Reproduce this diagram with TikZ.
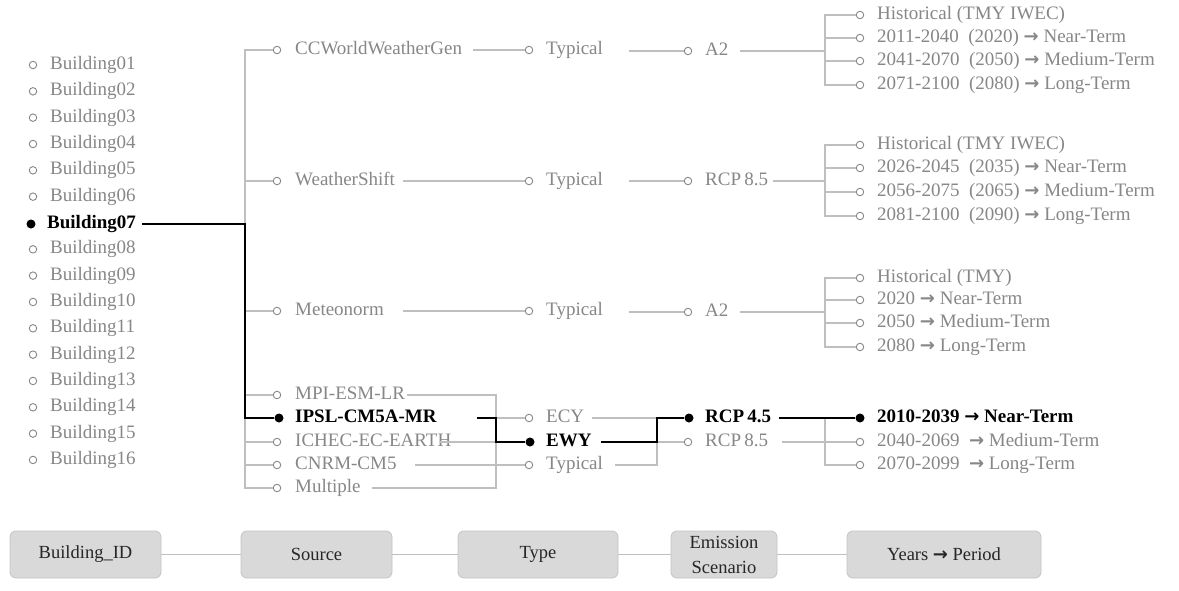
\documentclass[tikz,border=0pt]{standalone}
\usepackage{fontspec}
\setmainfont{Liberation Serif}
\newfontfamily\arrowfont{DejaVu Sans}
\definecolor{tgray}{HTML}{878787}
\definecolor{lgray}{HTML}{BFBFBF}
\definecolor{boxfill}{HTML}{D9D9D9}
\definecolor{boxline}{HTML}{C4C4C4}
\definecolor{boxtext}{HTML}{262626}
\newcommand{\arr}{{\arrowfont\bfseries\fontsize{18}{18}\selectfont →}}
\begin{document}
\begin{tikzpicture}[x=1pt,y=-1pt,
  every node/.style={font=\fontsize{19}{22}\selectfont},
  gdot/.style={circle,draw=tgray,fill=white,line width=0.9pt,minimum size=7.5pt,inner sep=0pt},
  bdot/.style={circle,fill=black,minimum size=9pt,inner sep=0pt},
  glab/.style={anchor=west,text=tgray,inner sep=0pt,text height=13pt,text depth=4pt},
  blab/.style={anchor=west,text=black,inner sep=0pt,text height=13pt,text depth=4pt,font=\fontsize{19}{22}\selectfont\bfseries},
  gl/.style={draw=lgray,line width=1.8pt},
  bl/.style={draw=black,line width=2.4pt},
  keybox/.style={draw=boxline,fill=boxfill,rounded corners=6pt,line width=0.8pt,inner sep=0pt,
    minimum height=47pt,font=\fontsize{18.5}{25}\selectfont,text=boxtext,align=center}
]
\useasboundingbox[fill=white] (0,0) rectangle (1179,590);

% ---------- Buildings ----------
\foreach \n/\k in {01/0,02/1,03/2,04/3,05/4,06/5,08/7,09/8,10/9,11/10,12/11,13/12,14/13,15/14,16/15}{
  \node[gdot] (bd\n) at (33,{65+26.33*\k}) {};
  \node[glab] (b\n) at (50,{65+26.33*\k}) {Building\n};
}
\node[bdot] (bd07) at (31,224) {};
\node[blab] (b07) at (47,224) {Building07};

% ---------- Sources ----------
\node[gdot] (sd-ccw) at (277,50) {};  \node[glab] (s-ccw) at (295,50) {CCWorldWeatherGen};
\node[gdot] (sd-ws) at (277,181) {};  \node[glab] (s-ws) at (295,181) {WeatherShift};
\node[gdot] (sd-mn) at (277,311) {};  \node[glab] (s-mn) at (295,311) {Meteonorm};
\node[gdot] (sd-mpi) at (277,395) {}; 
\node[bdot] (sd-ipsl) at (279,418) {};
\node[gdot] (sd-ichec) at (277,442) {};
\node[gdot] (sd-cnrm) at (277,465) {};
\node[gdot] (sd-mult) at (277,488) {};

\coordinate (sb1) at (245,50);
\coordinate (sb8) at (245,488);
\draw[gl] (sd-ccw) -- (sb1) -- (sb8) -- (sd-mult);
\foreach \s in {ws,mn,mpi,ichec,cnrm}{ \draw[gl] (sd-\s) -- (sd-\s -| sb1); }

% bottom group gray connections (drawn under labels)
\coordinate (tb) at (496,395);
\coordinate (mpio) at (407,395);
\coordinate (ichco) at (440,442);
\coordinate (cnrmo) at (415,465);
\coordinate (multo) at (372,488);
\node[gdot] (td-ecy) at (529,418) {};
\node[bdot] (td-ewy) at (530,442) {};
\node[gdot] (td-typ) at (529,465) {};
\draw[gl] (mpio) -- (tb) -- (tb |- sd-mult) -- (multo);
\draw[gl] (ichco) -- (ichco -| tb);
\draw[gl] (td-ecy -| tb) -- (td-ecy);
\draw[gl] (cnrmo) -- (td-typ);

\node[glab] (s-mpi) at (295,395) {MPI-ESM-LR};
\node[blab] (s-ipsl) at (295,418) {IPSL-CM5A-MR};
\node[glab] (s-ichec) at (295,442) {ICHEC-EC-EARTH};
\node[glab] (s-cnrm) at (295,465) {CNRM-CM5};
\node[glab] (s-mult) at (295,488) {Multiple};
\draw[gl] (ichco) -- (ichco -| tb);

% ---------- Type / Emission / Years : upper three groups ----------
% group 1
\node[gdot] (td-1) at (529,50) {};  \node[glab] (t-1) at (546,50) {Typical};
\node[gdot] (ed-1) at (688,51) {};  \node[glab] (e-1) at (705,51) {A2};
\coordinate (s1o) at (473,50);  \draw[gl] (s1o) -- (td-1);
\coordinate (t1o) at (629,51);  \draw[gl] (t1o) -- (ed-1);
\coordinate (e1o) at (740,51);  \coordinate (yb1) at (825,51);
\draw[gl] (e1o) -- (yb1);
\node[gdot] (yd-1-1) at (860,15) {}; \node[glab] (y-1-1) at (877,15) {Historical (TMY IWEC)};
\node[gdot] (yd-1-2) at (860,38) {}; \node[glab] (y-1-2) at (877,38) {2011-2040\ \ (2020)\ \arr{} Near-Term};
\node[gdot] (yd-1-3) at (860,61) {}; \node[glab] (y-1-3) at (877,61) {2041-2070\ \ (2050)\ \arr{} Medium-Term};
\node[gdot] (yd-1-4) at (860,85) {}; \node[glab] (y-1-4) at (877,85) {2071-2100\ \ (2080)\ \arr{} Long-Term};
\draw[gl] (yd-1-1) -- (yd-1-1 -| yb1) -- (yd-1-4 -| yb1) -- (yd-1-4);
\draw[gl] (yd-1-2) -- (yd-1-2 -| yb1);
\draw[gl] (yd-1-3) -- (yd-1-3 -| yb1);

% group 2
\node[gdot] (td-2) at (529,181) {};  \node[glab] (t-2) at (546,181) {Typical};
\node[gdot] (ed-2) at (688,181) {};  \node[glab] (e-2) at (705,181) {RCP\,8.5};
\coordinate (s2o) at (403,181);  \draw[gl] (s2o) -- (td-2);
\coordinate (t2o) at (629,181);  \draw[gl] (t2o) -- (ed-2);
\coordinate (e2o) at (773,181);  \coordinate (yb2) at (825,181);
\draw[gl] (e2o) -- (yb2);
\node[gdot] (yd-2-1) at (860,145) {}; \node[glab] (y-2-1) at (877,145) {Historical (TMY IWEC)};
\node[gdot] (yd-2-2) at (860,168) {}; \node[glab] (y-2-2) at (877,168) {2026-2045\ \ (2035)\ \arr{} Near-Term};
\node[gdot] (yd-2-3) at (860,192) {}; \node[glab] (y-2-3) at (877,192) {2056-2075\ \ (2065)\ \arr{} Medium-Term};
\node[gdot] (yd-2-4) at (860,216) {}; \node[glab] (y-2-4) at (877,216) {2081-2100\ \ (2090)\ \arr{} Long-Term};
\draw[gl] (yd-2-1) -- (yd-2-1 -| yb2) -- (yd-2-4 -| yb2) -- (yd-2-4);
\draw[gl] (yd-2-2) -- (yd-2-2 -| yb2);
\draw[gl] (yd-2-3) -- (yd-2-3 -| yb2);

% group 3
\node[gdot] (td-3) at (529,311) {};  \node[glab] (t-3) at (546,311) {Typical};
\node[gdot] (ed-3) at (688,312) {};  \node[glab] (e-3) at (705,312) {A2};
\coordinate (s3o) at (403,311);  \draw[gl] (s3o) -- (td-3);
\coordinate (t3o) at (629,312);  \draw[gl] (t3o) -- (ed-3);
\coordinate (e3o) at (740,312);  \coordinate (yb3) at (825,312);
\draw[gl] (e3o) -- (yb3);
\node[gdot] (yd-3-1) at (860,278) {}; \node[glab] (y-3-1) at (877,278) {Historical (TMY)};
\node[gdot] (yd-3-2) at (860,300) {}; \node[glab] (y-3-2) at (877,300) {2020\ \arr{} Near-Term};
\node[gdot] (yd-3-3) at (860,323) {}; \node[glab] (y-3-3) at (877,323) {2050\ \arr{} Medium-Term};
\node[gdot] (yd-3-4) at (860,347) {}; \node[glab] (y-3-4) at (877,347) {2080\ \arr{} Long-Term};
\draw[gl] (yd-3-1) -- (yd-3-1 -| yb3) -- (yd-3-4 -| yb3) -- (yd-3-4);
\draw[gl] (yd-3-2) -- (yd-3-2 -| yb3);
\draw[gl] (yd-3-3) -- (yd-3-3 -| yb3);

% ---------- bottom group: type, emission, years ----------
\node[glab] (t-ecy) at (546,418) {ECY};
\node[blab] (t-ewy) at (546,442) {EWY};
\node[glab] (t-typ) at (546,465) {Typical};

\node[bdot] (ed-45) at (689,418) {};  \node[blab] (e-45) at (705,418) {RCP\,4.5};
\node[gdot] (ed-85) at (688,442) {};  \node[glab] (e-85) at (705,442) {RCP\,8.5};

\coordinate (eb) at (657,418);
\coordinate (ecyo) at (592,418);
\coordinate (typo) at (615,465);
\draw[gl] (ecyo) -- (eb);
\draw[gl] (typo) -- (typo -| eb) -- (eb);
\draw[gl] (ed-85 -| eb) -- (ed-85);

\node[bdot] (yd-4-1) at (860,418) {}; \node[blab] (y-4-1) at (877,418) {2010-2039 \arr{} Near-Term};
\node[gdot] (yd-4-2) at (860,442) {}; \node[glab] (y-4-2) at (877,442) {2040-2069\ \ \arr{} Medium-Term};
\node[gdot] (yd-4-3) at (860,465) {}; \node[glab] (y-4-3) at (877,465) {2070-2099\ \ \arr{} Long-Term};
\coordinate (yb4) at (825,418);
\coordinate (e85o) at (782,442);
\draw[gl] (e85o) -- (yd-4-2);
\draw[gl] (yb4) -- (yd-4-3 -| yb4) -- (yd-4-3);

% ---------- highlighted path ----------
\coordinate (b07o) at (142,224);
\coordinate (ipslo) at (477,418);
\coordinate (ewyo) at (601,442);
\coordinate (e45o) at (779,418);
\draw[bl] (b07o) -- (b07o -| sb1) -- (sd-ipsl -| sb1) -- (sd-ipsl);
\draw[bl] (ipslo) -- (ipslo -| tb) -- (td-ewy -| tb) -- (td-ewy);
\draw[bl] (ewyo) -- (ewyo -| eb) -- (eb) -- (ed-45);
\draw[bl] (e45o) -- (yd-4-1);

% ---------- legend ----------
\node[keybox,minimum width=151pt] (k1) at (85.5,554.5) {Building\_ID};
\node[keybox,minimum width=151pt] (k2) at (316.5,554.5) {Source};
\node[keybox,minimum width=160pt] (k3) at (538,554.5) {Type};
\node[keybox,minimum width=106pt] (k4) at (724,554.5) {Emission\\Scenario};
\node[keybox,minimum width=194pt] (k5) at (944,554.5) {Years \arr{} Period};
\draw[gl,line width=1.4pt] (k1) -- (k2);
\draw[gl,line width=1.4pt] (k2) -- (k3);
\draw[gl,line width=1.4pt] (k3) -- (k4);
\draw[gl,line width=1.4pt] (k4) -- (k5);
\end{tikzpicture}
\end{document}
